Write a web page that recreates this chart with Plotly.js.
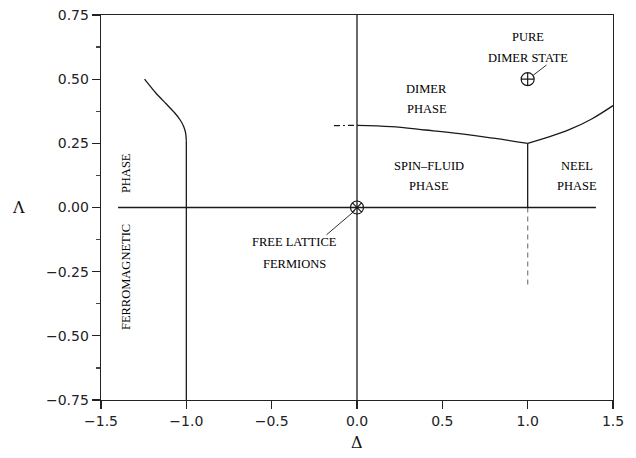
<!DOCTYPE html>
<html>
<head>
<meta charset="utf-8">
<script src="https://cdn.plot.ly/plotly-3.0.1.min.js"></script>
<style>html,body{margin:0;padding:0;background:#fff;}#chart{width:636px;height:458px;}</style>
</head>
<body>
<div id="chart"></div>
<script>
// Phase boundaries (Delta, Lambda)
const axisLineX = [-1.4, 1.4];          // Lambda = 0 line
const axisLineY = [0, 0];
const deltaZeroX = [0, 0];              // Delta = 0 line
const deltaZeroY = [-0.75, 0.75];
const ferroLineX = [-1.0, -1.0];
const ferroLineY = [-0.75, 0.26];
const ferroCurveX = [-1.0, -1.004, -1.015, -1.035, -1.07, -1.12, -1.18, -1.245];
const ferroCurveY = [0.26, 0.29, 0.315, 0.34, 0.37, 0.405, 0.447, 0.50];
const dimerDashX = [-0.135, 0.0];
const dimerDashY = [0.319, 0.32];
const dimerX = [0.0, 0.2, 0.4, 0.6, 0.8, 1.0];
const dimerY = [0.32, 0.315, 0.302, 0.288, 0.27, 0.25];
const neelX = [1.0, 1.125, 1.25, 1.375, 1.5];
const neelY = [0.25, 0.275, 0.305, 0.345, 0.397];
const kt1X = [1.0, 1.0];
const kt1Y = [0.0, 0.25];
const kt1DashX = [1.0, 1.0];
const kt1DashY = [-0.30, 0.0];
// special points
const freeX = [0.0], freeY = [0.0];
const pureX = [1.0], pureY = [0.5];
// leader lines
const leadFreeX = [-0.012, -0.178], leadFreeY = [-0.012, -0.106];
const leadPureX = [1.03, 1.11], leadPureY = [0.514, 0.555];
// labels
const labelText = ["PURE", "DIMER STATE", "DIMER", "PHASE", "SPIN\u2013FLUID", "PHASE", "NEEL", "PHASE", "FREE LATTICE", "FERMIONS"];
const labelX = [1.0, 1.0, 0.41, 0.41, 0.42, 0.42, 1.29, 1.29, -0.365, -0.365];
const labelY = [0.663, 0.581, 0.462, 0.384, 0.163, 0.083, 0.163, 0.083, -0.133, -0.219];
const vertText = ["PHASE", "FERROMAGNETIC"];
const vertX = [-1.352, -1.352];
const vertY = [0.135, -0.27];
const xTicks = [-1.5, -1.0, -0.5, 0.0, 0.5, 1.0, 1.5];
const xTickText = ["\u22121.5", "\u22121.0", "\u22120.5", "0.0", "0.5", "1.0", "1.5"];
const yTicks = [-0.75, -0.5, -0.25, 0.0, 0.25, 0.5, 0.75];
const yTickText = ["\u22120.75", "\u22120.50", "\u22120.25", "0.00", "0.25", "0.50", "0.75"];

const blk = '#1a1a1a';
function ln(x, y, opts) {
  return Object.assign({x: x, y: y, mode: 'lines', type: 'scatter', hoverinfo: 'skip',
    line: {color: blk, width: 1.3}}, opts || {});
}
const traces = [
  ln(ferroLineX, ferroLineY),
  ln(ferroCurveX, ferroCurveY, {line: {color: blk, width: 1.3, shape: 'spline', smoothing: 0.6}}),
  ln(deltaZeroX, deltaZeroY),
  ln(dimerDashX, dimerDashY, {line: {color: blk, width: 1.2, dash: '6px,3px,2px,3px'}}),
  ln(dimerX, dimerY, {line: {color: blk, width: 1.3, shape: 'spline'}}),
  ln(neelX, neelY, {line: {color: blk, width: 1.3, shape: 'spline'}}),
  ln(kt1X, kt1Y),
  ln(kt1DashX, kt1DashY, {line: {color: '#888', width: 1.3, dash: '5px,4px'}}),
  ln(axisLineX, axisLineY),
  ln(leadFreeX, leadFreeY, {line: {color: blk, width: 0.9}}),
  ln(leadPureX, leadPureY, {line: {color: blk, width: 0.9}}),
  {x: freeX, y: freeY, mode: 'markers', type: 'scatter', hoverinfo: 'skip',
   marker: {symbol: 'circle-x-open', size: 13, color: blk, line: {width: 1.2, color: blk}}},
  {x: pureX, y: pureY, mode: 'markers', type: 'scatter', hoverinfo: 'skip',
   marker: {symbol: 'circle-cross-open', size: 13, color: blk, line: {width: 1.2, color: blk}}}
];

const annFont = {family: 'Liberation Serif, DejaVu Serif, serif', size: 12.5, color: '#000'};
const annotations = [];
for (let i = 0; i < labelText.length; i++) {
  annotations.push({x: labelX[i], y: labelY[i], xref: 'x', yref: 'y', text: labelText[i],
    showarrow: false, font: annFont, xanchor: 'center', yanchor: 'middle'});
}
for (let i = 0; i < vertText.length; i++) {
  annotations.push({x: vertX[i], y: vertY[i], xref: 'x', yref: 'y', text: vertText[i],
    showarrow: false, font: annFont, textangle: -90, xanchor: 'center', yanchor: 'middle'});
}
annotations.push({x: -0.162, y: 0.5, xref: 'paper', yref: 'paper', text: '\u039B', showarrow: false,
  font: {family: 'DejaVu Serif, serif', size: 16, color: '#111'}, xanchor: 'center', yanchor: 'middle'});
annotations.push({x: 0.5, y: -0.11, xref: 'paper', yref: 'paper', text: '\u0394', showarrow: false,
  font: {family: 'DejaVu Serif, serif', size: 16, color: '#111'}, xanchor: 'center', yanchor: 'middle'});

const tickFont = {family: 'DejaVu Sans, sans-serif', size: 14, color: '#222'};
const layout = {
  width: 636, height: 458,
  margin: {l: 101, r: 23, t: 15, b: 58, pad: 0},
  paper_bgcolor: '#fff', plot_bgcolor: '#fff',
  showlegend: false,
  xaxis: {range: [-1.5, 1.5], tickvals: xTicks, ticktext: xTickText, ticks: 'outside', ticklen: 8,
    tickwidth: 1.3, tickcolor: '#222', showgrid: false, zeroline: false, showline: true, mirror: true,
    linecolor: '#222', linewidth: 1.3, tickfont: tickFont, fixedrange: true},
  yaxis: {range: [-0.75, 0.75], tickvals: yTicks, ticktext: yTickText, ticks: 'outside', ticklen: 8,
    tickwidth: 1.3, tickcolor: '#222', showgrid: false, zeroline: false, showline: true, mirror: true,
    linecolor: '#222', linewidth: 1.3, tickfont: tickFont, fixedrange: true,
    minor: {dtick: 0.125, tick0: 0, ticks: 'outside', ticklen: 4, tickcolor: '#444', showgrid: false}},
  annotations: annotations
};
Plotly.newPlot('chart', traces, layout, {staticPlot: true, displayModeBar: false});
</script>
</body>
</html>
